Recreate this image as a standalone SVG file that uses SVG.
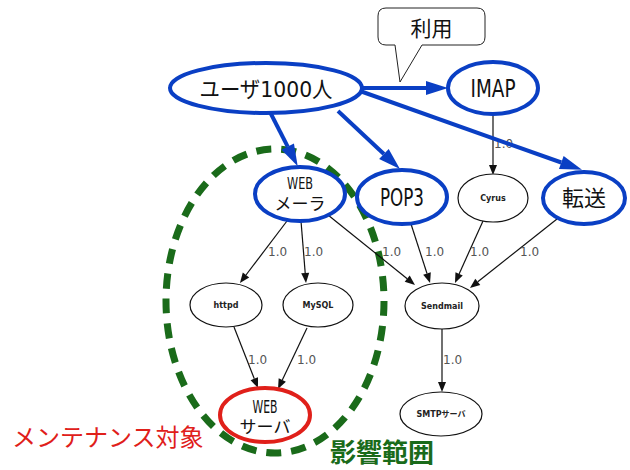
<svg xmlns="http://www.w3.org/2000/svg" width="630" height="470" viewBox="0 0 630 470">
<style>
.big{fill:#fff;stroke:#0a3fc4;stroke-width:4}
.small{fill:#fff;stroke:#111;stroke-width:1.2}
.red{fill:#fff;stroke:#e0201a;stroke-width:4}
.bl{font-family:"DejaVu Sans","Noto Sans CJK JP",sans-serif;fill:#111;text-anchor:middle}
.sm{font-family:"DejaVu Sans","Noto Sans CJK JP",sans-serif;font-size:8px;font-weight:bold;fill:#222;text-anchor:middle}
.el{font-family:"DejaVu Sans",sans-serif;font-size:12px;fill:#555}
.be{stroke:#0a3fc4;stroke-width:4;fill:none;marker-end:url(#ab)}
.ke{stroke:#111;stroke-width:1.2;fill:none;marker-end:url(#ak)}
</style>
<defs>
<marker id="ab" markerUnits="userSpaceOnUse" markerWidth="24" markerHeight="16" refX="0" refY="8" orient="auto" viewBox="0 0 24 16" overflow="visible"><path d="M0,1 L22,8 L0,15 z" fill="#0a3fc4"/></marker>
<marker id="ak" markerUnits="userSpaceOnUse" markerWidth="12" markerHeight="10" refX="0" refY="5" orient="auto" viewBox="0 0 12 10" overflow="visible"><path d="M0,1 L10,5 L0,9 z" fill="#111"/></marker>
</defs>
<rect width="630" height="470" fill="#fff"/>
<ellipse id="scope" cx="275" cy="301" rx="109" ry="152" fill="none" stroke="#1a6b1a" stroke-width="7" stroke-dasharray="15 10"/>
<g id="connectors">
<line class="ke" x1="493" y1="114" x2="493" y2="165"/>
<line class="ke" x1="287" y1="221" x2="246" y2="275"/>
<line class="ke" x1="301" y1="221" x2="305.2" y2="273"/>
<line class="ke" x1="328" y1="215" x2="407.2" y2="278.7"/>
<line class="ke" x1="411" y1="224" x2="427" y2="273.5"/>
<line class="ke" x1="483" y1="221" x2="459.1" y2="273.9"/>
<line class="ke" x1="557" y1="219" x2="477.8" y2="281.8"/>
<line class="ke" x1="234" y1="327" x2="254.3" y2="378.7"/>
<line class="ke" x1="307" y1="328" x2="282.3" y2="380"/>
<line class="ke" x1="442" y1="329" x2="442" y2="382"/>
<text class="el" x="494" y="148">1.0</text>
<text class="el" x="268" y="256">1.0</text>
<text class="el" x="304" y="256">1.0</text>
<text class="el" x="382" y="256">1.0</text>
<text class="el" x="425" y="256">1.0</text>
<text class="el" x="470" y="256">1.0</text>
<text class="el" x="520" y="256">1.0</text>
<text class="el" x="248" y="364">1.0</text>
<text class="el" x="297" y="364">1.0</text>
<text class="el" x="443" y="364">1.0</text>
<line class="be" x1="362" y1="88" x2="426" y2="88"/>
<line class="be" x1="270" y1="112" x2="287.7" y2="146.6"/>
<line class="be" x1="338" y1="111" x2="383.9" y2="154"/>
<line class="be" x1="360" y1="91" x2="561.3" y2="162.5"/>
</g>
<g id="callout">
<path d="M386,8 H477 Q485,8 485,16 V37 Q485,45 477,45 H422 L400,82 L395,45 H386 Q378,45 378,37 V16 Q378,8 386,8 Z" fill="#fff" stroke="#222" stroke-width="1"/>
<text class="bl" x="431.5" y="36" font-size="21">利用</text>
</g>
<g id="user"><ellipse class="big" cx="266" cy="88" rx="96" ry="25"/><text class="bl" x="266" y="97" font-size="22" textLength="133" lengthAdjust="spacingAndGlyphs">ユーザ1000人</text></g>
<g id="imap"><ellipse class="big" cx="493" cy="88" rx="45" ry="26"/><text class="bl" x="493" y="97" font-size="24" textLength="45" lengthAdjust="spacingAndGlyphs">IMAP</text></g>
<g id="webmailer"><ellipse class="big" cx="300" cy="194" rx="45" ry="27"/><text class="bl" x="300" y="189" font-size="15" textLength="26" lengthAdjust="spacingAndGlyphs">WEB</text><text class="bl" x="300" y="210" font-size="17">メーラ</text></g>
<g id="pop3"><ellipse class="big" cx="402" cy="197" rx="45" ry="27"/><text class="bl" x="402" y="206" font-size="24" textLength="44" lengthAdjust="spacingAndGlyphs">POP3</text></g>
<g id="cyrus"><ellipse class="small" cx="493" cy="198" rx="35" ry="24"/><text class="sm" x="493" y="201">Cyrus</text></g>
<g id="tenso"><ellipse class="big" cx="584" cy="198" rx="41" ry="26"/><text class="bl" x="584" y="206" font-size="22">転送</text></g>
<g id="httpd"><ellipse class="small" cx="226" cy="305" rx="36" ry="22"/><text class="sm" x="226" y="308">httpd</text></g>
<g id="mysql"><ellipse class="small" cx="318" cy="305" rx="35" ry="22"/><text class="sm" x="318" y="308">MySQL</text></g>
<g id="sendmail"><ellipse class="small" cx="442" cy="306" rx="37" ry="23"/><text class="sm" x="442" y="309">Sendmail</text></g>
<g id="smtp"><ellipse class="small" cx="441" cy="414" rx="41" ry="22"/><text class="sm" x="441" y="417">SMTPサーバ</text></g>
<g id="webserver"><ellipse class="red" cx="265" cy="415" rx="45" ry="27"/><text class="bl" x="265" y="413" font-size="17" textLength="25" lengthAdjust="spacingAndGlyphs">WEB</text><text class="bl" x="265" y="433" font-size="17">サーバ</text></g>
<text x="12" y="446" font-family="'Noto Sans CJK JP',sans-serif" font-size="24" fill="#e0201a">メンテナンス対象</text>
<text x="330" y="462" font-family="'Noto Sans CJK JP',sans-serif" font-size="26" font-weight="bold" fill="#1a6b1a">影響範囲</text>
</svg>
